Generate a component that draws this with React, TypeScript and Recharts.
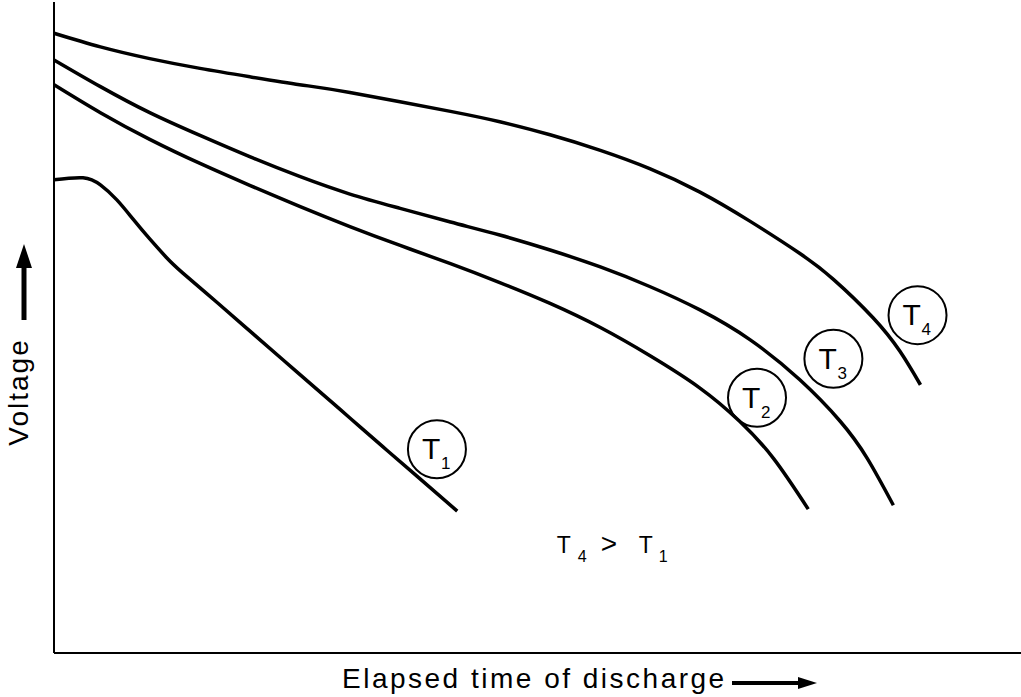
import React from 'react';
import { LineChart, Line, XAxis, YAxis, ReferenceDot, Label } from 'recharts';

// elapsed time (0-100) and voltage (0-100)
const t1Time = [0, 3.0, 4.8, 6.5, 8.2, 9.9, 11.6, 13.3, 16.9, 20.3, 23.7, 27.2, 30.6, 34.0, 37.5, 41.7];
const t1Volt = [72.7, 73.0, 71.9, 69.6, 66.6, 63.6, 60.8, 58.4, 53.8, 49.4, 45.0, 40.5, 36.1, 31.7, 27.2, 21.8];

const t2Time = [0, 4.8, 9.9, 15.1, 20.3, 25.4, 30.6, 35.8, 41.0, 46.1, 51.3, 56.5, 61.6, 66.8, 70.9, 74.4, 78.0];
const t2Volt = [87.3, 83.0, 78.9, 75.2, 71.8, 68.6, 65.5, 62.6, 59.8, 56.9, 53.7, 50.0, 45.7, 40.7, 35.6, 29.9, 22.1];

const t3Time = [0, 4.8, 9.9, 15.1, 20.3, 25.4, 30.6, 35.8, 41.0, 46.1, 51.3, 56.5, 61.6, 66.8, 72.0, 77.1, 81.3, 84.1, 86.8];
const t3Volt = [91.1, 87.0, 83.0, 79.5, 76.2, 73.2, 70.5, 68.3, 66.2, 64.2, 61.9, 59.3, 56.3, 52.7, 48.1, 42.0, 35.6, 29.9, 22.7];

const t4Time = [0, 4.8, 9.9, 15.1, 20.3, 25.4, 30.6, 41.0, 46.1, 51.3, 56.5, 61.6, 66.8, 72.0, 77.1, 80.6, 84.7, 87.5, 89.6];
const t4Volt = [95.2, 93.1, 91.3, 89.8, 88.5, 87.3, 86.1, 83.2, 81.6, 79.6, 77.2, 74.4, 70.8, 66.3, 61.4, 57.4, 51.5, 46.3, 41.2];

const curveNames = ['1', '2', '3', '4'];
const tagTime = [39.6, 72.7, 80.6, 89.3];
const tagVolt = [31.3, 39.2, 45.2, 51.9];

const noteTime = 52.0;
const noteVolt = 15.4;

const FONT = '"Liberation Sans", Arial, sans-serif';

const toPoints = (time: number[], volt: number[]) => time.map((t, i) => ({ t, v: volt[i] }));

const series = [
  toPoints(t1Time, t1Volt),
  toPoints(t2Time, t2Volt),
  toPoints(t3Time, t3Volt),
  toPoints(t4Time, t4Volt),
];

const makeTag = (sub: string) => (props: any) => {
  const { cx, cy } = props;
  return (
    <g>
      <circle cx={cx} cy={cy} r={29} fill="none" stroke="#000" strokeWidth={2} />
      <text x={cx - 15} y={cy + 10} fontFamily={FONT} fontSize={30} fill="#000">T</text>
      <text x={cx + 4} y={cy + 20} fontFamily={FONT} fontSize={17} fill="#000">{sub}</text>
    </g>
  );
};

const NoteShape = (props: any) => {
  const { cx, cy } = props;
  const big = { fontFamily: FONT, fontSize: 23, fill: '#000' };
  const small = { fontFamily: FONT, fontSize: 16, fill: '#000' };
  return (
    <g>
      <text x={cx} y={cy} {...big}>T</text>
      <text x={cx + 21} y={cy + 9} {...small}>4</text>
      <text x={cx + 44} y={cy} {...big} fontSize={28}>&gt;</text>
      <text x={cx + 82} y={cy} {...big}>T</text>
      <text x={cx + 102} y={cy + 9} {...small}>1</text>
    </g>
  );
};

const XTitle = (props: any) => {
  const { x, y } = props.viewBox;
  const ay = y + 30;
  return (
    <g>
      <text x={x + 288} y={y + 35} fontFamily={FONT} fontSize={28} letterSpacing={2.5} fill="#000">
        Elapsed time of discharge
      </text>
      <line x1={x + 678} y1={ay} x2={x + 748} y2={ay} stroke="#000" strokeWidth={4} />
      <polygon points={`${x + 763},${ay} ${x + 744},${ay - 6} ${x + 744},${ay + 6}`} fill="#000" />
    </g>
  );
};

const YTitle = (props: any) => {
  const { y } = props.viewBox;
  const cy = y + 390;
  return (
    <g>
      <text
        x={28}
        y={cy}
        textAnchor="middle"
        transform={`rotate(-90, 28, ${cy})`}
        fontFamily={FONT}
        fontSize={28}
        letterSpacing={2}
        fill="#000"
      >
        Voltage
      </text>
      <line x1={24} y1={y + 318} x2={24} y2={y + 262} stroke="#000" strokeWidth={5} />
      <polygon points={`24,${y + 242} 16,${y + 266} 32,${y + 266}`} fill="#000" />
    </g>
  );
};

export default function App() {
  return (
    <div style={{ position: 'absolute', left: 0, top: 0, background: '#fff' }}>
      <LineChart width={1021} height={697} margin={{ top: 2, right: 0, bottom: 0, left: 0 }}>
        <XAxis
          type="number"
          dataKey="t"
          domain={[0, 100]}
          tick={false}
          tickLine={false}
          axisLine={{ stroke: '#000', strokeWidth: 2 }}
          height={44}
        >
          <Label content={XTitle} />
        </XAxis>
        <YAxis
          type="number"
          dataKey="v"
          domain={[0, 100]}
          tick={false}
          tickLine={false}
          axisLine={{ stroke: '#000', strokeWidth: 2 }}
          width={54}
        >
          <Label content={YTitle} />
        </YAxis>
        {series.map((pts, i) => (
          <Line
            key={curveNames[i]}
            data={pts}
            dataKey="v"
            type="natural"
            stroke="#000"
            strokeWidth={3.5}
            dot={false}
            isAnimationActive={false}
          />
        ))}
        {curveNames.map((n, i) => (
          <ReferenceDot key={'tag' + n} x={tagTime[i]} y={tagVolt[i]} r={29} shape={makeTag(n)} />
        ))}
        <ReferenceDot x={noteTime} y={noteVolt} r={1} shape={NoteShape} />
      </LineChart>
    </div>
  );
}
